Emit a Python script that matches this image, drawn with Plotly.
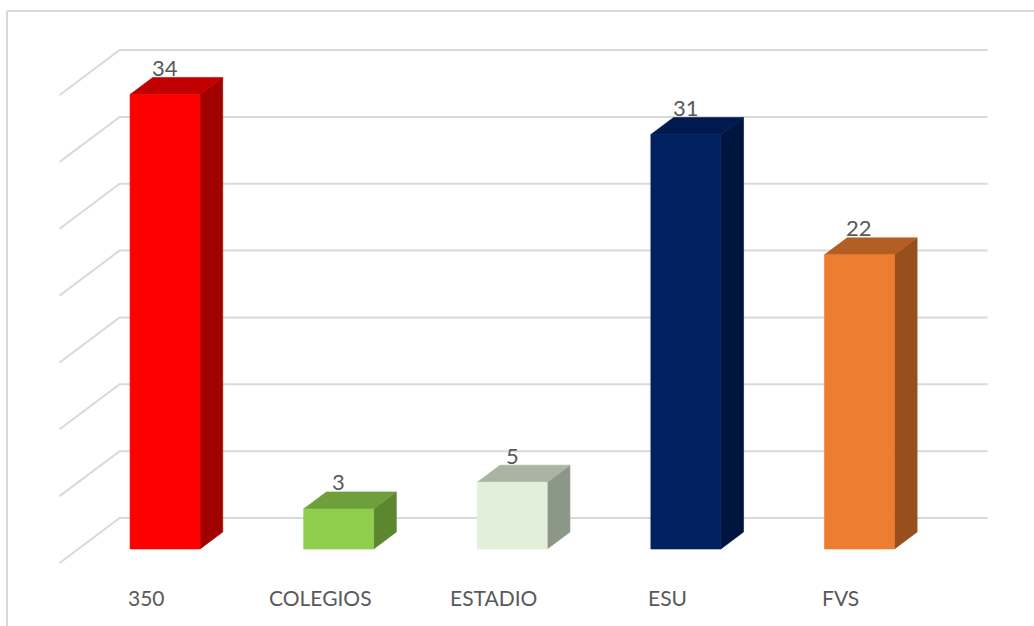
import plotly.graph_objects as go

# ---- data ----
categories = ["350", "COLEGIOS", "ESTADIO", "ESU", "FVS"]
values = [34, 3, 5, 31, 22]
front_colors = ["#FF0000", "#8FCE4F", "#E2EFDA", "#002060", "#ED7D31"]
top_colors = ["#C00000", "#6E9F3B", "#A9B5A2", "#001A4F", "#B45E24"]
side_colors = ["#A00000", "#5A8730", "#8C9787", "#00153E", "#974F1E"]
gridline_values = [0, 5, 10, 15, 20, 25, 30, 35]

# ---- 3D projection setup (category units on x, value units on y) ----
W, H = 1034, 626
PX_PER_CAT = 173.6
PX_PER_VAL = 13.37
ORIGIN_X_PX = 146.4   # screen x of category 0 on the front floor edge
FLOOR_Y_PX = 563      # screen y of value 0 on the front floor edge

DEPTH_DX = 60 / PX_PER_CAT   # shift of the back wall relative to the front edge
DEPTH_DY = 45 / PX_PER_VAL
BAR_D0, BAR_D1 = 0.311, 0.689  # bar depth span within the floor
HALF_W = 35 / PX_PER_CAT
X_LEFT, X_RIGHT = -0.5, len(categories) - 0.5

GRID = "#D9D9D9"
TEXT = "#595959"
FONT = "Lato"


def proj(x, d, v):
    return x + d * DEPTH_DX, v + d * DEPTH_DY


def poly(points, color):
    xs, ys = zip(*[proj(*p) for p in points])
    return go.Scatter(
        x=list(xs) + [xs[0]], y=list(ys) + [ys[0]],
        mode="lines", fill="toself", fillcolor=color,
        line=dict(color=color, width=0.6),
        hoverinfo="skip", showlegend=False,
    )


fig = go.Figure()

# side wall and back wall gridlines
for g in gridline_values:
    xs, ys = zip(proj(X_LEFT, 0, g), proj(X_LEFT, 1, g), proj(X_RIGHT, 1, g))
    fig.add_trace(go.Scatter(
        x=xs, y=ys, mode="lines", line=dict(color=GRID, width=2),
        hoverinfo="skip", showlegend=False,
    ))

# bars: side face, top face, front face
for i, (v, fc, tc, sc) in enumerate(zip(values, front_colors, top_colors, side_colors)):
    xl, xr = i - HALF_W, i + HALF_W
    fig.add_trace(poly([(xr, BAR_D0, 0), (xr, BAR_D1, 0), (xr, BAR_D1, v), (xr, BAR_D0, v)], sc))
    fig.add_trace(poly([(xl, BAR_D0, v), (xr, BAR_D0, v), (xr, BAR_D1, v), (xl, BAR_D1, v)], tc))
    fig.add_trace(poly([(xl, BAR_D0, 0), (xr, BAR_D0, 0), (xr, BAR_D0, v), (xl, BAR_D0, v)], fc))

annotations = []
# value labels above each bar
for i, v in enumerate(values):
    x, y = proj(i, BAR_D0, v)
    annotations.append(dict(
        x=x, y=y, xref="x", yref="y", text=str(v), showarrow=False,
        yshift=27, xanchor="center", yanchor="middle",
        font=dict(family=FONT, size=22, color=TEXT),
    ))
# category labels along the front floor edge
for i, c in enumerate(categories):
    x, y = proj(i, 0, 0)
    annotations.append(dict(
        x=x, y=y, xref="x", yref="y", text=c, showarrow=False,
        yshift=-34, xanchor="center", yanchor="middle",
        font=dict(family=FONT, size=21, color=TEXT),
    ))

# chart area border (left and top edges)
shapes = [
    dict(type="line", xref="paper", yref="paper",
         x0=7 / W, x1=7 / W, y0=0, y1=1 - 11 / H, line=dict(color=GRID, width=2)),
    dict(type="line", xref="paper", yref="paper",
         x0=7 / W, x1=1, y0=1 - 11 / H, y1=1 - 11 / H, line=dict(color=GRID, width=2)),
]

fig.update_layout(
    width=W, height=H,
    margin=dict(l=0, r=0, t=0, b=0),
    paper_bgcolor="white", plot_bgcolor="white",
    xaxis=dict(range=[-ORIGIN_X_PX / PX_PER_CAT, (W - ORIGIN_X_PX) / PX_PER_CAT],
               visible=False, fixedrange=True),
    yaxis=dict(range=[-(H - FLOOR_Y_PX) / PX_PER_VAL, FLOOR_Y_PX / PX_PER_VAL],
               visible=False, fixedrange=True),
    annotations=annotations,
    shapes=shapes,
    showlegend=False,
)

fig.write_html("out.html", config={"displayModeBar": False})
